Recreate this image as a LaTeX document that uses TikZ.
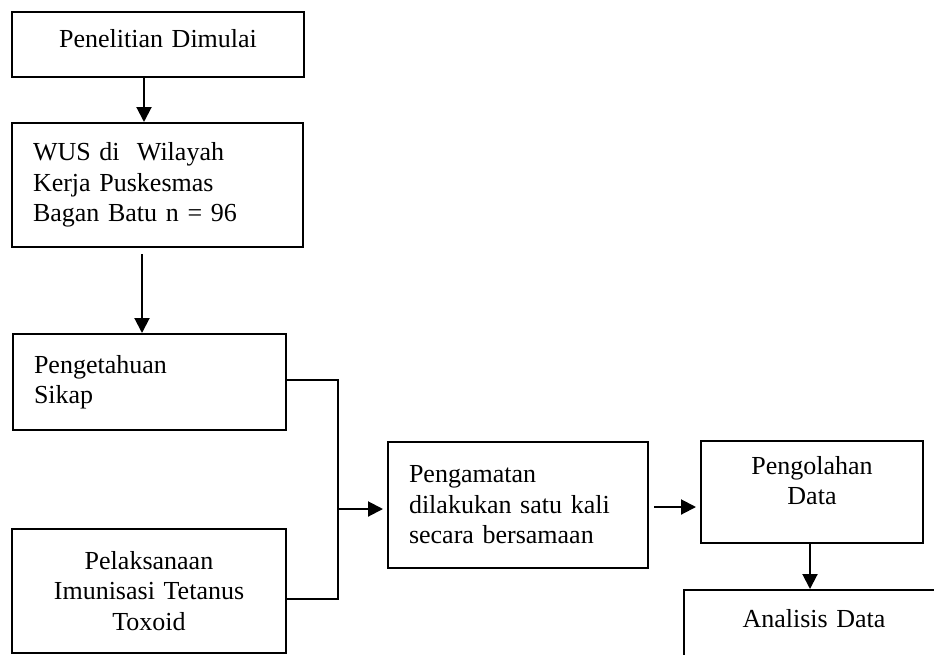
\documentclass[tikz,border=0pt]{standalone}
\usepackage{fontspec}
\setmainfont{Liberation Serif}
\usetikzlibrary{arrows.meta}

\begin{document}
\begin{tikzpicture}[
    x=1pt, y=-1pt,
    box/.style = {draw, line width=2pt, align=left, inner xsep=21pt,
                  inner ysep=0pt, font=\fontsize{26}{30.5}\selectfont},
    cbox/.style = {box, align=center},
    arr/.style = {line width=2pt, -{Triangle[length=15pt,width=15pt]}},
    lnk/.style = {line width=2pt},
  ]
    \useasboundingbox (0,0) rectangle (934,654);
    \clip (0,0) rectangle (934,654);

    \node[cbox, text width=250pt, minimum height=65pt, text depth=12pt] (start) at (158,44.5)
         {Penelitian Dimulai};
    \node[box, text width=249pt, minimum height=124pt] (wus) at (157.5,185)
         {WUS di\ \ Wilayah\\Kerja Puskesmas\\Bagan Batu n = 96};
    \node[box, text width=231pt, minimum height=96pt] (know) at (149.5,382)
         {Pengetahuan\\Sikap};
    \node[cbox, text width=232pt, minimum height=124pt] (imun) at (149,591)
         {Pelaksanaan\\Imunisasi Tetanus\\Toxoid};
    \node[box, text width=218pt, minimum height=126pt] (obs) at (518,505)
         {Pengamatan\\dilakukan satu kali\\secara bersamaan};
    \node[cbox, text width=180pt, minimum height=102pt, text depth=54pt] (proc) at (812,492)
         {Pengolahan\\Data};
    \node[cbox, text width=218pt, minimum height=100pt, anchor=north,
          text depth=44pt] (anal) at (814,589) {Analisis Data};

    \coordinate (join) at (338,509);

    \draw[arr] ([xshift=-14pt]start.south) -- ([xshift=-14pt]start.south |- wus.north);
    \draw[arr, shorten <=6pt] ([xshift=-15.5pt]wus.south) -- ([xshift=-15.5pt]wus.south |- know.north);
    \draw[lnk] ([yshift=2pt]know.east) -| (join) |- ([yshift=-8pt]imun.east);
    \draw[arr, shorten >=4pt] (join) -- (join -| obs.west);
    \draw[arr, shorten <=5pt, shorten >=4pt] ([yshift=-2pt]obs.east) -- ([yshift=-2pt]obs.east -| proc.west);
    \draw[arr] ([xshift=-2pt]proc.south) -- ([xshift=-2pt]proc.south |- anal.north);
  \end{tikzpicture}
\end{document}
